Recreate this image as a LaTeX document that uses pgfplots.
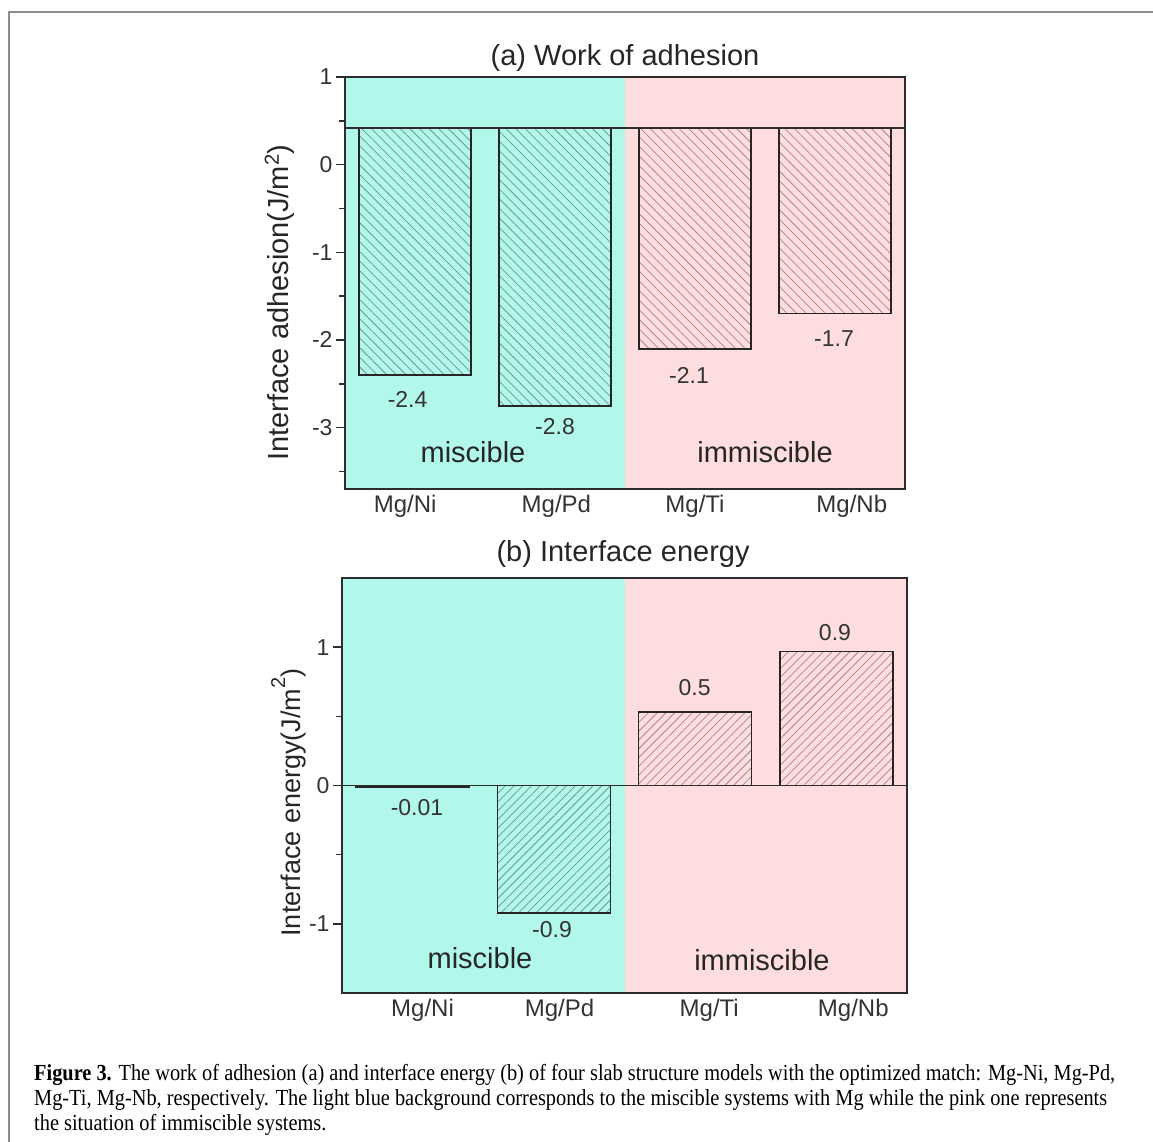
\documentclass[border=0pt]{standalone}
\usepackage{fontspec}
\setmainfont{Liberation Sans}
\newfontfamily\capfont{Liberation Serif}
\usepackage{graphicx}
\usepackage{pgfplots}
\pgfplotsset{compat=1.18}
\usepackage{pgfplotstable}
\usetikzlibrary{patterns.meta}

\definecolor{cyanbg}{RGB}{178,247,235}
\definecolor{pinkbg}{RGB}{253,221,221}
\definecolor{axgray}{RGB}{45,45,45}
\definecolor{hatchc}{RGB}{105,150,145}
\definecolor{hatchp}{RGB}{170,135,135}
\definecolor{framegray}{RGB}{140,140,140}
\newcommand\fs[1]{\fontsize{#1}{#1}\selectfont}
\newlength\capw

% panel (a): bars hang from the reference line at y = base
\pgfplotstableread{
x base v
0 0.42 -2.40
1 0.42 -2.75
2 0.42 -2.10
3 0.42 -1.70
}\adhesion

\pgfplotstableread{
x v
0 -0.01
1 -0.92
2 0.53
3 0.97
}\energy

\pgfplotsset{
  myaxis/.style={
    scale only axis,
    anchor=south west,
    xmin=-0.5, xmax=3.5,
    axis on top,
    clip mode=individual,
    axis line style={axgray, line width=2pt},
    tick align=outside,
    ytick pos=left,
    xtick pos=bottom,
    major tick length=9pt,
    minor tick length=6pt,
    ytick style={axgray, line width=1.6pt},
    xtick style={draw=none},
    xticklabels={Mg/Ni,Mg/Pd,Mg/Ti,Mg/Nb},
    xticklabel style={font=\fs{24}, text=black!80, yshift=6pt},
    yticklabel style={font=\fs{23}, text=black!80},
  },
  hatchA/.style={draw=black!85, line width=1.6pt,
    pattern={Lines[angle=-45,distance=6.8pt,line width=0.75pt]}},
  hatchB/.style={draw=black!85, line width=1.6pt,
    pattern={Lines[angle=45,distance=6.2pt,line width=0.75pt]}},
}

\begin{document}%
\settowidth\capw{\capfont\fs{23}\textbf{Figure 3.} The work of adhesion (a) and interface energy (b) of four slab structure models with the optimized match: Mg-Ni, Mg-Pd,}%
\pgfmathsetmacro\capsc{1081/\capw}%
\begin{tikzpicture}[x=1pt,y=1pt]
\useasboundingbox (0,0) rectangle (1153,1142);
\draw[framegray, line width=1.5pt] (9,-5) -- (9,1130) -- (1160,1130);

% ---------- panel (a)  (internal y = value - 0.42, so bars start at the 0.42 line)
\begin{axis}[myaxis, at={(345pt,653pt)}, width=560pt, height=412pt,
  ymin=-4.12, ymax=0.58,
  ytick={-3.42,-2.42,-1.42,-0.42,0.58}, yticklabels={-3,-2,-1,0,1},
  minor ytick={-3.92,-2.92,-1.92,-0.92,0.08},
  xtick={-0.07,1.01,2.0,3.12}]
\fill[cyanbg] (axis cs:-0.5,-4.12) rectangle (axis cs:1.5,0.58);
\fill[pinkbg] (axis cs:1.5,-4.12) rectangle (axis cs:3.5,0.58);
\addplot[ybar, bar width=0.8, hatchA, pattern color=hatchc,
  skip coords between index={2}{4}]
  table[x=x, y expr={\thisrow{v}-\thisrow{base}}] {\adhesion};
\addplot[ybar, bar width=0.8, hatchA, pattern color=hatchp,
  skip coords between index={0}{2}]
  table[x=x, y expr={\thisrow{v}-\thisrow{base}}] {\adhesion};
\draw[axgray, line width=1.5pt] (axis cs:-0.5,0) -- (axis cs:3.5,0);
\node[font=\fs{23}, text=black!80] at (axis cs:-0.053,-3.104) {-2.4};
\node[font=\fs{23}, text=black!80] at (axis cs:1.0,-3.41) {-2.8};
\node[font=\fs{23}, text=black!80] at (axis cs:1.957,-2.82) {-2.1};
\node[font=\fs{23}, text=black!80] at (axis cs:2.993,-2.40) {-1.7};
\node[font=\fs{29}, text=black!85] at (axis cs:0.414,-3.704) {miscible};
\node[font=\fs{29}, text=black!85] at (axis cs:2.5,-3.704) {immiscible};
\node[font=\fs{29}, text=black!85, anchor=base] at (axis cs:1.5,0.712) {(a) Work of adhesion};
\node[font=\fs{29}, text=black!85, anchor=base, rotate=90] at (axis cs:-0.907,-1.994) {Interface adhesion(J/m\textsuperscript{2})};
\end{axis}

% ---------- panel (b)
\begin{axis}[myaxis, at={(342pt,149pt)}, width=565pt, height=415pt,
  ymin=-1.5, ymax=1.5,
  ytick={-1,0,1}, yticklabels={-1,0,1},
  minor ytick={-0.5,0.5},
  xtick={0.07,1.04,2.1,3.12}]
\fill[cyanbg] (axis cs:-0.5,-1.5) rectangle (axis cs:1.5,1.5);
\fill[pinkbg] (axis cs:1.5,-1.5) rectangle (axis cs:3.5,1.5);
\addplot[ybar, bar width=0.8, hatchB, pattern color=hatchc,
  skip coords between index={2}{4}] table[x=x, y=v] {\energy};
\addplot[ybar, bar width=0.8, hatchB, pattern color=hatchp,
  skip coords between index={0}{2}] table[x=x, y=v] {\energy};
\draw[axgray, line width=1.5pt] (axis cs:-0.5,0) -- (axis cs:3.5,0);
\node[font=\fs{23}, text=black!80] at (axis cs:0.031,-0.16) {-0.01};
\node[font=\fs{23}, text=black!80] at (axis cs:0.987,-1.04) {-0.9};
\node[font=\fs{23}, text=black!80] at (axis cs:1.996,0.705) {0.5};
\node[font=\fs{23}, text=black!80] at (axis cs:2.99,1.105) {0.9};
\node[font=\fs{29}, text=black!85] at (axis cs:0.477,-1.25) {miscible};
\node[font=\fs{29}, text=black!85] at (axis cs:2.473,-1.265) {immiscible};
\node[font=\fs{29}, text=black!85, anchor=base] at (axis cs:1.49,1.622) {(b) Interface energy};
\node[font=\fs{27}, text=black!85, anchor=base, rotate=90] at (axis cs:-0.797,-0.124) {Interface energy(J/m\raisebox{15pt}{\fs{20}2})};
\end{axis}

% ---------- caption
\node[anchor=base west, inner sep=0pt] at (34,61) {\scalebox{\capsc}[1]{\capfont\fs{23}\textbf{Figure 3.} The work of adhesion (a) and interface energy (b) of four slab structure models with the optimized match: Mg-Ni, Mg-Pd,}};
\node[anchor=base west, inner sep=0pt] at (34,36) {\scalebox{\capsc}[1]{\capfont\fs{23}Mg-Ti, Mg-Nb, respectively. The light blue background corresponds to the miscible systems with Mg while the pink one represents}};
\node[anchor=base west, inner sep=0pt] at (34,11) {\scalebox{\capsc}[1]{\capfont\fs{23}the situation of immiscible systems.}};
\end{tikzpicture}%
\end{document}
